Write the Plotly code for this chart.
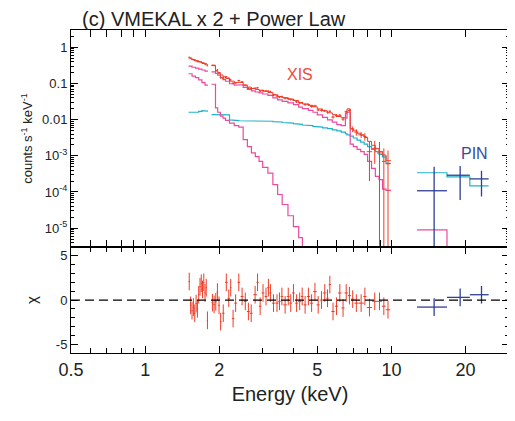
import math
import plotly.graph_objects as go

# ---------------- XIS spectrum (counts s^-1 keV^-1) ----------------
xis_e = [1.51, 1.53, 1.55, 1.57, 1.59, 1.61, 1.63, 1.65, 1.67, 1.69, 1.71, 1.73, 1.75, 1.77, 1.79,
         1.875, 1.905, 1.935, 1.965, 1.995, 2.025, 2.075, 2.135, 2.185, 2.225, 2.275, 2.33, 2.40, 2.475,
         2.55, 2.625, 2.695, 2.795, 2.86, 2.93, 3.01, 3.095, 3.165, 3.225, 3.32, 3.43, 3.51, 3.59, 3.70,
         3.81, 3.90, 4.00, 4.12, 4.24, 4.34, 4.46, 4.60, 4.74, 4.89, 5.04, 5.20, 5.36, 5.50, 5.62, 5.79,
         5.98, 6.17, 6.36, 6.55, 6.75, 6.96, 7.20, 7.53, 7.80, 8.14, 8.55, 8.94, 9.31, 9.68]
xis_hw = [0.01, 0.01, 0.01, 0.01, 0.01, 0.01, 0.01, 0.01, 0.01, 0.01, 0.01, 0.01, 0.01, 0.01, 0.01,
          0.015, 0.015, 0.015, 0.015, 0.015, 0.015, 0.025, 0.025, 0.025, 0.015, 0.025, 0.03, 0.03, 0.035,
          0.035, 0.035, 0.035, 0.045, 0.03, 0.035, 0.04, 0.04, 0.035, 0.03, 0.05, 0.05, 0.04, 0.04, 0.06,
          0.05, 0.05, 0.05, 0.06, 0.06, 0.05, 0.06, 0.07, 0.07, 0.08, 0.07, 0.08, 0.08, 0.06, 0.06, 0.09,
          0.09, 0.10, 0.09, 0.10, 0.10, 0.11, 0.13, 0.20, 0.12, 0.20, 0.20, 0.20, 0.17, 0.20]
xis_rate = [0.53, 0.50, 0.46, 0.45, 0.43, 0.42, 0.40, 0.40, 0.40, 0.39, 0.37, 0.37, 0.35, 0.35, 0.31,
            0.315, 0.312, 0.222, 0.236, 0.192, 0.146, 0.140, 0.152, 0.139, 0.126, 0.101, 0.104, 0.120, 0.110,
            0.089, 0.073, 0.072, 0.074, 0.076, 0.062, 0.064, 0.062, 0.061, 0.059, 0.048, 0.045, 0.042, 0.043, 0.039,
            0.038, 0.036, 0.035, 0.031, 0.029, 0.029, 0.026, 0.026, 0.023, 0.024, 0.0185, 0.0180, 0.0175, 0.0160, 0.0170, 0.0118,
            0.0128, 0.0132, 0.0103, 0.0165, 0.0180, 0.0055, 0.0045, 0.0038, 0.0034, 0.0013, 0.0016, 0.0012, 0.0007, 0.0006]
xis_err = [0.016, 0.015, 0.015, 0.014, 0.014, 0.014, 0.013, 0.013, 0.013, 0.013, 0.012, 0.012, 0.012, 0.012, 0.011,
           0.014, 0.014, 0.012, 0.012, 0.011, 0.010, 0.008, 0.008, 0.008, 0.008, 0.007, 0.006, 0.006, 0.006,
           0.005, 0.005, 0.005, 0.004, 0.004, 0.004, 0.0038, 0.0036, 0.0036, 0.0036, 0.0032, 0.003, 0.003, 0.003, 0.0026,
           0.0026, 0.0025, 0.0024, 0.0022, 0.0021, 0.0021, 0.0019, 0.0018, 0.0017, 0.0016, 0.0015, 0.0014, 0.0013, 0.0013, 0.0012, 0.0012,
           0.0011, 0.0011, 0.0011, 0.0013, 0.0014, 0.0010, 0.0009, 0.0007, 0.0008, 0.0011, 0.0010, 0.0012, 0.0009, 0.0008]
xis_chi = [2.1, -0.6, -1.2, -0.8, -1.5, -0.4, -1.0, 0.6, 1.5, 1.9, 1.2, 2.0, 0.8, 1.4, -2.3,
           -0.3, -0.5, -0.2, 0.9, -0.6, -2.45, -1.5, 2.0, 0.2, 1.4, -2.1, -0.35, 2.0, 0.4,
           -0.15, -1.3, -1.5, 0.6, 2.0, -0.7, 0.8, 0.4, 1.4, 0.8, -0.35, -0.35, -0.15, 0.4, -0.55,
           0.4, -0.35, 0.8, -0.35, -0.15, 0.4, -0.55, 0.4, -0.35, 0.95, -0.55, 0.0, 0.8, 0.2, 1.75, -1.3,
           -0.7, 0.8, -0.9, 0.8, 0.5, 0.1, -0.35, -0.35, 0.4, -0.85, -0.15, -0.15, -0.7, -1.1]

# ---------------- XIS model components (same units) ----------------
model_edges = [1.50, 1.55, 1.60, 1.65, 1.70, 1.75, 1.80, 1.86, 1.93, 1.97, 2.02, 2.07, 2.12, 2.20, 2.30,
               2.40, 2.50, 2.60, 2.70, 2.80, 2.90, 3.00, 3.15, 3.30, 3.45, 3.60, 3.80, 4.00, 4.20, 4.35,
               4.60, 4.80, 5.00, 5.25, 5.50, 5.75, 6.00, 6.25, 6.50, 6.60, 6.80, 7.00, 7.25, 7.50, 7.75,
               8.00, 8.30, 8.60, 8.90, 9.20, 9.50, 9.95]
pl_model = [0.0160, 0.0158, 0.0160, 0.0168, 0.0178, 0.0172, None,
            0.0138, 0.0136, 0.0138, 0.0139, 0.0138, 0.0135, 0.0098, 0.0094, 0.0093, 0.0093,
            0.0092, 0.0092, 0.0092, 0.0091, 0.0091, 0.0090, 0.0088, 0.0086, 0.0083, 0.0080,
            0.0077, 0.0074, 0.0071, 0.0068, 0.0065, 0.0062, 0.0059, 0.0056, 0.0052, 0.0049,
            0.0045, 0.0041, 0.0038, 0.0035, 0.0031, 0.0027, 0.0024, 0.0021, 0.0018, 0.0015,
            0.0013, 0.0011, 0.00093, 0.00062]
hard_model = [0.30, 0.28, 0.265, 0.25, 0.235, 0.22, None,
              0.21, 0.19, 0.17, 0.145, 0.128, 0.115, 0.098, 0.090, 0.092, 0.078,
              0.068, 0.062, 0.058, 0.055, 0.051, 0.047, 0.040, 0.035, 0.032, 0.029,
              0.026, 0.022, 0.020, 0.0180, 0.0160, 0.0135, 0.0116, 0.0098, 0.0085, 0.0073,
              0.0068, 0.0110, 0.0160, 0.0021, 0.0018, 0.0015, 0.0013, 0.0011, 0.00070, 0.00045,
              0.00027, 0.00022, 0.00012, 0.00011]
soft_model = [0.185, 0.160, 0.145, 0.125, 0.105, 0.090, None,
              0.095, 0.021, 0.016, 0.0125, 0.0110, 0.0095, 0.0080, 0.0068, 0.0062, 0.0028,
              0.0018, 0.0012, 0.00095, 0.00070, 0.00048, 0.00033, 0.00016, 0.000085, 0.000045, 0.000022,
              0.000011, 0.0000055, 8e-8, None, None, None, None, None, None, None,
              None, None, None, None, None, None, None, None, None, None,
              None, None, None, None]

# ---------------- HXD/PIN ----------------
pin_edges = [12.7, 16.8, 20.8, 24.8]
pin_e = [14.9, 19.0, 23.2]
pin_rate = [1.08e-4, 2.9e-4, 2.3e-4]
pin_err = [3.9e-4, 2.3e-4, 1.55e-4]
pin_chi = [-0.8, 0.3, 0.6]
pin_pl = [3.4e-4, 2.6e-4, 1.48e-4]
pin_hard = [8.9e-6, 4e-8, 1e-9]

# ---------------- axes ----------------
x_tickvals = [0.5, 1, 2, 5, 10, 20]
x_ticktext = ["0.5", "1", "2", "5", "10", "20"]
y_tickvals = [1, 0.1, 0.01, 1e-3, 1e-4, 1e-5]
y_ticktext = ["1", "0.1", "0.01", "10<sup>-3</sup>", "10<sup>-4</sup>", "10<sup>-5</sup>"]
chi_tickvals = [-5, 0, 5]
chi_ticktext = ["-5", "0", "5"]

RED = "#ef3b26"
PINK = "#ec4a9f"
CYAN = "#21b2c6"
NAVY = "#2f3f95"

# the page body adds an 8 px offset; figure is sized to the remaining window
W, H = 507, 413


def steps(edges, vals):
    xs, ys = [], []
    for lo, hi, v in zip(edges[:-1], edges[1:], vals):
        if v is None:
            xs.append(None)
            ys.append(None)
            continue
        xs += [lo, hi]
        ys += [v, v]
    return xs, ys


total_model = [None if p is None else p + h + (s or 0.0)
               for p, h, s in zip(pl_model, hard_model, soft_model)]

fig = go.Figure()


def add_step(edges, vals, color, yaxis="y", width=1.2):
    xs, ys = steps(edges, vals)
    fig.add_trace(go.Scatter(x=xs, y=ys, mode="lines", line=dict(color=color, width=width),
                             connectgaps=False, xaxis="x", yaxis=yaxis, hoverinfo="skip"))


add_step(model_edges, pl_model, CYAN)
add_step(model_edges, hard_model, PINK)
add_step(model_edges, soft_model, PINK)
add_step(model_edges, total_model, RED, width=1.0)
add_step(pin_edges, pin_pl, CYAN)
add_step(pin_edges, pin_hard, PINK)

NOMARK = dict(size=1, opacity=0)

# XIS data
fig.add_trace(go.Scatter(
    x=xis_e, y=xis_rate, mode="markers", marker=NOMARK,
    error_x=dict(type="data", array=xis_hw, color=RED, thickness=1, width=0),
    error_y=dict(type="data", array=xis_err, color=RED, thickness=1, width=0),
    xaxis="x", yaxis="y"))
# PIN data
pin_xp = [hi - e for hi, e in zip(pin_edges[1:], pin_e)]
pin_xm = [e - lo for lo, e in zip(pin_edges[:-1], pin_e)]
fig.add_trace(go.Scatter(
    x=pin_e, y=pin_rate, mode="markers", marker=NOMARK,
    error_x=dict(type="data", array=pin_xp, arrayminus=pin_xm, color=NAVY, thickness=1.3, width=0),
    error_y=dict(type="data", array=pin_err, color=NAVY, thickness=1.3, width=0),
    xaxis="x", yaxis="y"))

# residuals
fig.add_trace(go.Scatter(
    x=xis_e, y=xis_chi, mode="markers", marker=NOMARK,
    error_x=dict(type="data", array=xis_hw, color=RED, thickness=1, width=0),
    error_y=dict(type="constant", value=1, color=RED, thickness=1, width=0),
    xaxis="x", yaxis="y2"))
fig.add_trace(go.Scatter(
    x=pin_e, y=pin_chi, mode="markers", marker=NOMARK,
    error_x=dict(type="data", array=pin_xp, arrayminus=pin_xm, color=NAVY, thickness=1.3, width=0),
    error_y=dict(type="constant", value=1, color=NAVY, thickness=1.3, width=0),
    xaxis="x", yaxis="y2"))

fig.add_shape(type="line", xref="x domain", yref="y2", x0=0, x1=1, y0=0, y1=0,
              line=dict(color="black", width=1.3, dash="9px,5px"))

x_minor = [0.6, 0.7, 0.8, 0.9, 3, 4, 6, 7, 8, 9, 30]
y_minor = [m * 10.0 ** k for k in range(-6, 1) for m in range(2, 10)]

axis_common = dict(showline=True, linecolor="black", linewidth=1, showgrid=False,
                   zeroline=False, ticks="inside", tickcolor="black", automargin=False)

fig.update_layout(
    width=W, height=H,
    margin=dict(l=63, r=6, t=22, b=68),
    paper_bgcolor="white", plot_bgcolor="white",
    showlegend=False,
    font=dict(family="Liberation Sans, Arial, sans-serif", color="#222222"),
    title=dict(text="(c) VMEKAL x 2 + Power Law", x=74 / W, xanchor="left", xref="container",
               y=1 - 4 / H, yanchor="top", yref="container", automargin=False,
               pad=dict(t=0, b=0, l=0, r=0),
               font=dict(size=20, color="#222222")),
    xaxis=dict(type="log", range=[math.log10(0.5), math.log10(30)], anchor="y2",
               tickmode="array", tickvals=x_tickvals, ticktext=x_ticktext, ticklen=7,
               mirror="allticks", tickfont=dict(size=18),
               minor=dict(tickvals=x_minor, ticks="inside", ticklen=5, tickcolor="black"),
               title=dict(text="Energy (keV)", font=dict(size=20), standoff=8),
               **axis_common),
    yaxis=dict(type="log", domain=[0.328, 1], range=[math.log10(3e-6), math.log10(3)], anchor="x",
               tickmode="array", tickvals=y_tickvals, ticktext=y_ticktext, ticklen=7,
               mirror="ticks", tickfont=dict(size=13),
               minor=dict(tickvals=y_minor, ticks="inside", ticklen=3, tickcolor="black"),
               title=dict(text="counts s<sup>-1</sup> keV<sup>-1</sup>", font=dict(size=13), standoff=6),
               **axis_common),
    yaxis2=dict(domain=[0, 0.328], range=[-6, 6], anchor="x",
                tickmode="array", tickvals=chi_tickvals, ticktext=chi_ticktext, ticklen=7,
                mirror="ticks", tickfont=dict(size=13),
                minor=dict(dtick=1, ticks="inside", ticklen=4, tickcolor="black"),
                title=dict(text="χ", font=dict(size=15), standoff=14),
                **axis_common),
    annotations=[
        dict(text="XIS", xref="x", yref="y", x=math.log10(4.26), y=-0.752, showarrow=False,
             font=dict(size=16, color="#f04a3a")),
        dict(text="PIN", xref="x", yref="y", x=math.log10(21.8), y=-2.93, showarrow=False,
             font=dict(size=16, color="#3b4a9b")),
    ],
)

fig.write_html("out.html")
